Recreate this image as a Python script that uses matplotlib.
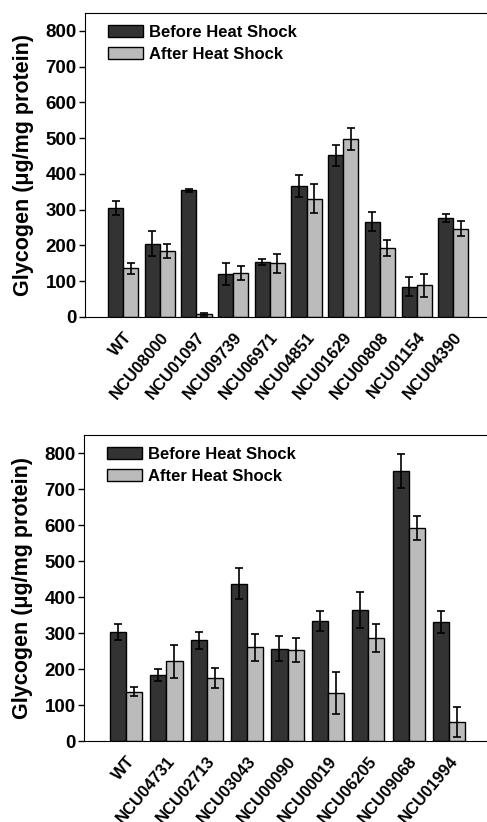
import numpy as np
import matplotlib.pyplot as plt
from matplotlib.transforms import ScaledTranslation

plt.rcParams['font.family'] = ['Liberation Sans', 'DejaVu Sans']
plt.rcParams['font.weight'] = 'bold'

strains_top = ['WT', 'NCU08000', 'NCU01097', 'NCU09739', 'NCU06971',
               'NCU04851', 'NCU01629', 'NCU00808', 'NCU01154', 'NCU04390']
before_top = [305, 205, 354, 119, 153, 367, 452, 266, 85, 277]
before_top_err = [19, 34, 5, 31, 8, 31, 30, 27, 27, 12]
after_top = [136, 185, 7, 123, 150, 331, 498, 193, 88, 247]
after_top_err = [15, 20, 3, 20, 27, 40, 31, 23, 31, 20]

strains_bot = ['WT', 'NCU04731', 'NCU02713', 'NCU03043', 'NCU00090',
               'NCU00019', 'NCU06205', 'NCU09068', 'NCU01994']
before_bot = [303, 184, 280, 437, 257, 334, 364, 750, 330]
before_bot_err = [23, 16, 23, 43, 34, 27, 50, 46, 30]
after_bot = [137, 222, 175, 260, 253, 133, 287, 592, 53]
after_bot_err = [12, 46, 28, 38, 34, 58, 39, 34, 42]

dark = '#333333'
light = '#bbbbbb'


def panel(fig, ax, names, before, berr, after, aerr, width, xright):
    x = np.arange(len(names))
    ax.bar(x - width / 2, before, width, yerr=berr, color=dark, edgecolor='black',
           linewidth=1, capsize=3, error_kw=dict(elinewidth=1.2, capthick=1.2),
           label='Before Heat Shock')
    ax.bar(x + width / 2, after, width, yerr=aerr, color=light, edgecolor='black',
           linewidth=1, capsize=3, error_kw=dict(elinewidth=1.2, capthick=1.2),
           label='After Heat Shock')
    ax.set_xlim(-1.04, xright)
    ax.set_ylim(0, 850)
    ax.set_yticks(range(0, 900, 100))
    ax.set_xticks(x)
    ax.set_xticklabels(names, rotation=50, ha='right', rotation_mode='anchor',
                       fontsize=12, fontweight='bold')
    shift = ScaledTranslation(8 / 100, 0, fig.dpi_scale_trans)
    for lab in ax.get_xticklabels():
        lab.set_transform(lab.get_transform() + shift)
    ax.tick_params(axis='x', length=0, pad=9)
    ax.tick_params(axis='y', length=4, width=1, labelsize=13.5, pad=2)
    ax.spines['right'].set_visible(False)
    ax.set_ylabel('Glycogen (\u03bcg/mg protein)', fontsize=15.5, fontweight='bold',
                  labelpad=8)
    ax.legend(loc='upper left', bbox_to_anchor=(0.028, 1.0), frameon=False,
              handlelength=2.1, handleheight=0.75, handletextpad=0.35,
              labelspacing=0.45, borderaxespad=0.3,
              prop=dict(weight='bold', size=12))


fig = plt.figure(figsize=(4.87, 8.22), dpi=100)
ax1 = fig.add_axes([0.1745, 0.6144, 0.8255, 0.3698])
panel(fig, ax1, strains_top, before_top, before_top_err, after_top, after_top_err,
      0.41, 9.92)
ax2 = fig.add_axes([0.1725, 0.0985, 0.8275, 0.3723])
panel(fig, ax2, strains_bot, before_bot, before_bot_err, after_bot, after_bot_err,
      0.40, 8.94)

fig.savefig('out.png', dpi=100)
